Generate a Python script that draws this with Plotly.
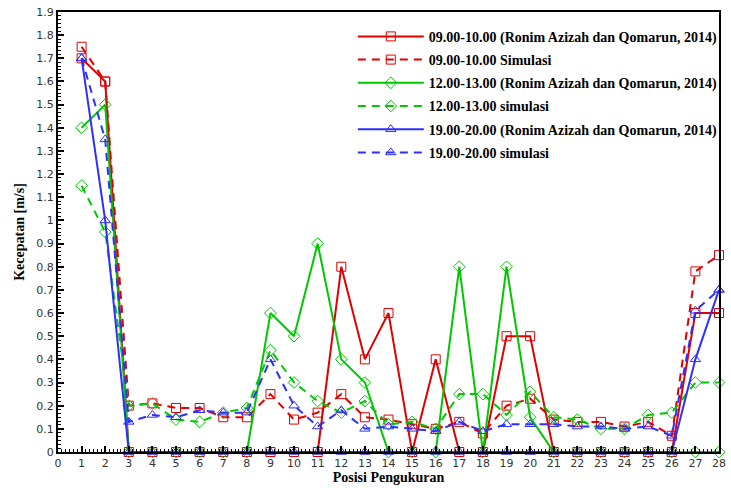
import plotly.graph_objects as go

x = list(range(1, 29))

red_exp = [1.70, 1.60, 0, 0, 0, 0, 0, 0, 0, 0, 0, 0.80, 0.40, 0.60, 0, 0.40, 0, 0, 0.50, 0.50, 0, 0, 0, 0, 0, 0, 0.60, 0.60]
red_sim = [1.75, 1.60, 0.20, 0.21, 0.19, 0.19, 0.15, 0.15, 0.25, 0.14, 0.17, 0.25, 0.15, 0.14, 0.12, 0.10, 0.13, 0.08, 0.20, 0.23, 0.14, 0.13, 0.13, 0.11, 0.13, 0.07, 0.78, 0.85]
green_exp = [1.40, 1.50, 0, 0, 0, 0, 0, 0, 0.60, 0.50, 0.90, 0.40, 0.30, 0, 0, 0, 0.80, 0, 0.80, 0.15, 0, 0, 0, 0, 0, 0, 0, 0]
green_sim = [1.15, 0.95, 0.20, 0.21, 0.14, 0.13, 0.17, 0.19, 0.44, 0.30, 0.22, 0.17, 0.22, 0.12, 0.13, 0.10, 0.25, 0.25, 0.16, 0.26, 0.15, 0.14, 0.10, 0.10, 0.16, 0.17, 0.30, 0.30]
blue_exp = [1.70, 1.00, 0, 0, 0, 0, 0, 0, 0, 0, 0, 0, 0, 0, 0, 0, 0, 0, 0, 0, 0, 0, 0, 0, 0, 0, 0.40, 0.70]
blue_sim = [1.70, 1.35, 0.13, 0.16, 0.15, 0.18, 0.17, 0.17, 0.40, 0.20, 0.11, 0.18, 0.10, 0.11, 0.10, 0.09, 0.13, 0.09, 0.12, 0.12, 0.12, 0.11, 0.11, 0.10, 0.11, 0.07, 0.61, 0.70]

names = [
    "09.00-10.00 (Ronim Azizah dan Qomarun, 2014)",
    "09.00-10.00 Simulasi",
    "12.00-13.00 (Ronim Azizah dan Qomarun, 2014)",
    "12.00-13.00 simulasi",
    "19.00-20.00 (Ronim Azizah dan Qomarun, 2014)",
    "19.00-20.00 simulasi",
]

RED = "#e00000"
GREEN = "#00c800"
BLUE = "#2e2eff"

series = [
    (red_exp, names[0], RED, "solid", "square-open"),
    (red_sim, names[1], RED, "dash", "square-open"),
    (green_exp, names[2], GREEN, "solid", "diamond-open"),
    (green_sim, names[3], GREEN, "dash", "diamond-open"),
    (blue_exp, names[4], BLUE, "solid", "triangle-up-open"),
    (blue_sim, names[5], BLUE, "dash", "triangle-up-open"),
]

fig = go.Figure()
for i, (vals, nm, col, dash, sym) in enumerate(series):
    fig.add_trace(go.Scatter(
        x=x, y=vals, name=nm, mode="lines+markers",
        legendgroup=f"g{i}",
        line=dict(color=col, width=2, dash="8px,6px" if dash == "dash" else "solid"),
        marker=dict(symbol=sym, size=9, color=col, line=dict(width=1, color=col)),
        cliponaxis=False,
    ))

fig.update_layout(
    width=731, height=488,
    margin=dict(l=58, r=5, t=12, b=36),
    paper_bgcolor="white", plot_bgcolor="white",
    showlegend=True,
    legend=dict(
        x=0.446, y=0.98, xanchor="left", yanchor="top",
        bgcolor="rgba(255,255,255,0)",
        font=dict(family="Liberation Serif", size=14, color="black", weight="bold"),
        itemwidth=66,
        tracegroupgap=2,
        traceorder="grouped",
    ),
    xaxis=dict(
        range=[0, 28], dtick=1, tick0=0,
        ticks="inside", ticklen=6, tickwidth=2, tickcolor="black",
        showline=True, linewidth=2, linecolor="black", mirror=True,
        showgrid=False, zeroline=False,
        tickfont=dict(family="DejaVu Sans", size=11, color="#333"),
        minor=dict(ticks="inside", ticklen=3, tickwidth=1, tickcolor="black", dtick=1/6, tick0=0),
        title=dict(text="Posisi Pengukuran", standoff=2,
                   font=dict(family="Liberation Serif", size=14, color="black", weight="bold")),
    ),
    yaxis=dict(
        range=[0, 1.9], dtick=0.1, tick0=0,
        ticks="inside", ticklen=6, tickwidth=2, tickcolor="black",
        showline=True, linewidth=2, linecolor="black", mirror=True,
        showgrid=False, zeroline=False,
        tickfont=dict(family="DejaVu Sans", size=11, color="#333"),
        minor=dict(ticks="inside", ticklen=3, tickwidth=1, tickcolor="black", dtick=0.1/6, tick0=0),
        title=dict(text="Kecepatan [m/s]", standoff=8,
                   font=dict(family="Liberation Serif", size=14, color="black", weight="bold")),
    ),
)

fig.write_html("out.html")
